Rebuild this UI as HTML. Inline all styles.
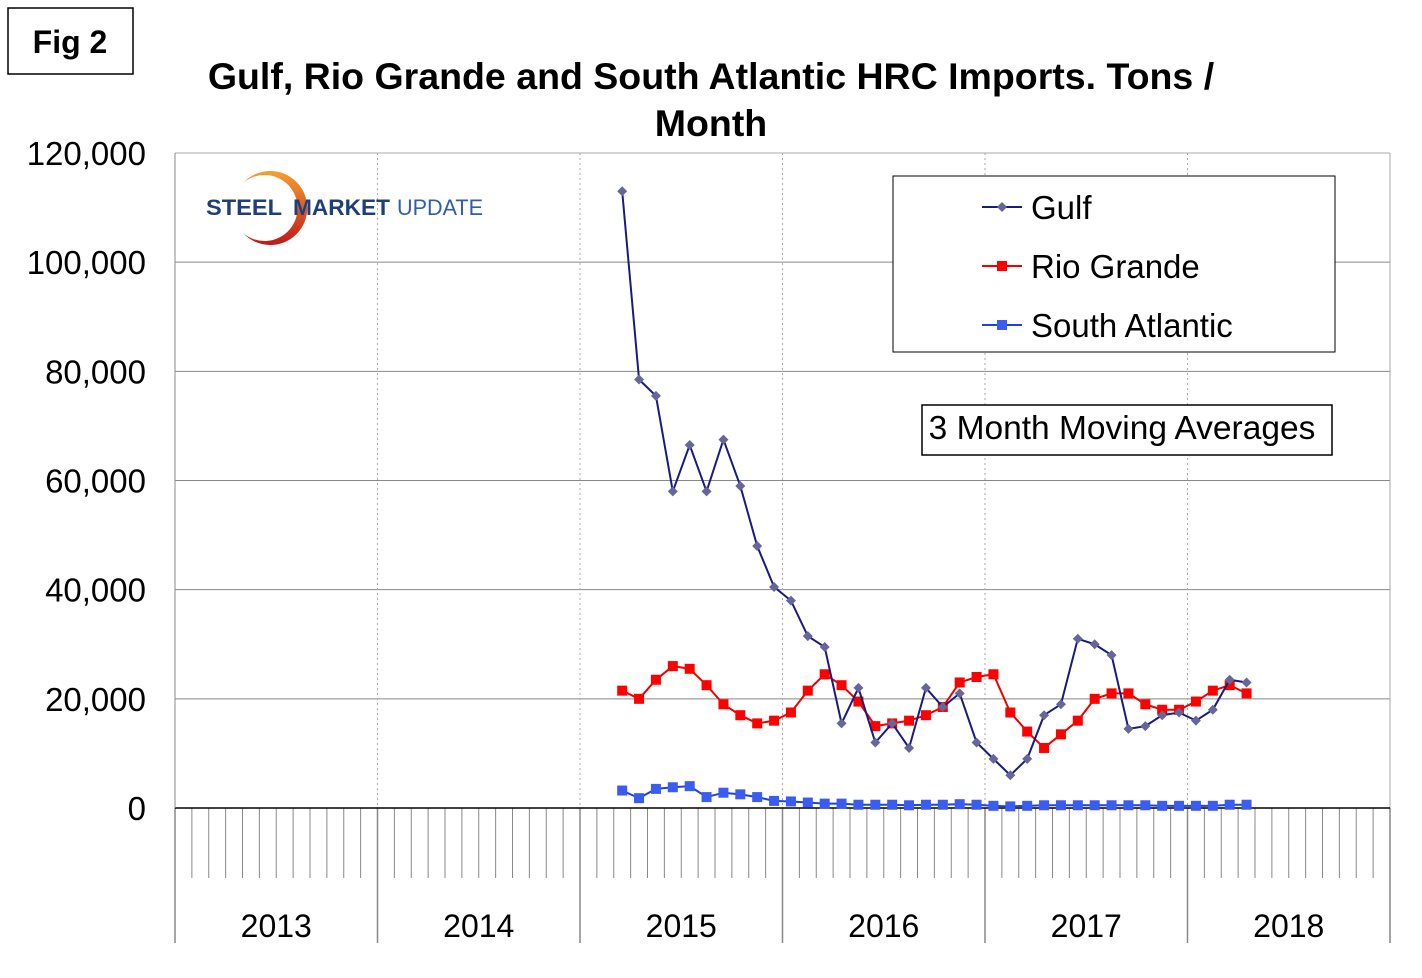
<!DOCTYPE html>
<html><head><meta charset="utf-8"><style>
body{margin:0;background:#fff;font-family:"Liberation Sans",Arial,sans-serif}
svg text{font-family:"Liberation Sans",Arial,sans-serif}
</style></head><body>
<svg id="c" width="1422" height="973" xmlns="http://www.w3.org/2000/svg">
<defs><linearGradient id="lg" x1="0" y1="0" x2="0" y2="1"><stop offset="0" stop-color="#f5a030"/><stop offset="1" stop-color="#c01818"/></linearGradient></defs>
<rect x="0" y="0" width="1422" height="973" fill="#fff"/>
<rect x="8" y="8" width="125" height="66" fill="#fff" stroke="#000" stroke-width="1.5"/>
<text x="70" y="53" font-size="32" font-weight="bold" text-anchor="middle">Fig 2</text>
<text x="711" y="89" font-size="37.5" font-weight="bold" text-anchor="middle">Gulf, Rio Grande and South Atlantic HRC Imports. Tons /</text>
<text x="711" y="136" font-size="37.5" font-weight="bold" text-anchor="middle">Month</text>
<g id="grid"></g>
<g id="axes"></g>
<g>
<path d="M243,183 A37,37 0 1,1 243,233 A33,33 0 1,0 243,183 Z" fill="url(#lg)"/>
<text x="206" y="215" font-size="22" font-weight="bold" fill="#1f3f7a" textLength="76" lengthAdjust="spacingAndGlyphs">STEEL</text>
<text x="293" y="215" font-size="22" font-weight="bold" fill="#1f3f7a" textLength="97" lengthAdjust="spacingAndGlyphs">MARKET</text>
<text x="397" y="215" font-size="22" fill="#2e5fa8" textLength="86" lengthAdjust="spacingAndGlyphs">UPDATE</text>
</g>
<g id="series"></g>
<rect x="893" y="176" width="442" height="176" fill="#fff" stroke="#000" stroke-width="1"/>
<g id="legend"></g>
<rect x="922" y="405" width="410" height="50" fill="#fff" stroke="#000" stroke-width="1.5"/>
<text x="1122" y="439" font-size="33.5" text-anchor="middle">3 Month Moving Averages</text>
</svg>
<script>
const years=["2013","2014","2015","2016","2017","2018"];
const yTicks=[0,20000,40000,60000,80000,100000,120000];
const startMonthIndex=26; // March 2015, months since Jan 2013
const gulf=[113000,78500,75500,58000,66500,58000,67500,59000,48000,40500,38000,31500,29500,15500,22000,12000,15500,11000,22000,18500,21000,12000,9000,6000,9000,17000,19000,31000,30000,28000,14500,15000,17000,17500,16000,18000,23500,23000];
const rioGrande=[21500,20000,23500,26000,25500,22500,19000,17000,15500,16000,17500,21500,24500,22500,19500,15000,15500,16000,17000,18500,23000,24000,24500,17500,14000,11000,13500,16000,20000,21000,21000,19000,18000,18000,19500,21500,22500,21000];
const southAtlantic=[3200,1800,3500,3800,4000,2000,2800,2500,2000,1300,1200,1000,800,800,600,600,600,500,600,600,700,600,400,300,400,500,500,500,500,500,500,500,400,400,400,400,600,600];
const NS="http://www.w3.org/2000/svg";
const X0=175,X1=1390,Y0=808,Ytop=153,YMAX=120000;
const monthW=(X1-X0)/72;
const xm=i=>X0+(i+0.5)*monthW;
const y=v=>Y0-(v/YMAX)*(Y0-Ytop);
function mk(tag,attrs,parent){const e=document.createElementNS(NS,tag);for(const k in attrs)e.setAttribute(k,attrs[k]);parent.appendChild(e);return e;}
const grid=document.getElementById('grid'),axes=document.getElementById('axes'),ser=document.getElementById('series'),leg=document.getElementById('legend');
yTicks.forEach(v=>{
 if(v>0){const l=mk('line',{x1:X0,x2:X1,y1:y(v),y2:y(v),stroke:'#888','stroke-width':1},grid);
 
 }
 const t=mk('text',{x:146,y:y(v)+12,'font-size':33,'text-anchor':'end'},axes);t.textContent=v.toLocaleString('en-US');
 
 
});
for(let k=0;k<=6;k++){const x=X0+k*12*monthW;
 if(k>0&&k<6){const l=mk('line',{x1:x,x2:x,y1:Ytop,y2:Y0,stroke:'#aaa','stroke-dasharray':'2 3'},grid);
 
 }
 const s=mk('line',{x1:x,x2:x,y1:Y0,y2:943,stroke:'#888','stroke-width':1.5},axes);
 
 
}
mk('line',{x1:X0,x2:X1,y1:Ytop,y2:Ytop,stroke:'#aaa'},grid);
mk('line',{x1:X1,x2:X1,y1:Ytop,y2:Y0,stroke:'#aaa'},grid);
for(let m=1;m<72;m++){if(m%12==0)continue;const x=X0+m*monthW;mk('line',{x1:x,x2:x,y1:Y0,y2:878,stroke:'#888'},axes);}
const ya=mk('line',{x1:X0,x2:X1,y1:Y0,y2:Y0,stroke:'#000','stroke-width':1.5},axes);


mk('line',{x1:X0,x2:X0,y1:Ytop,y2:Y0,stroke:'#888'},axes);
years.forEach((yr,k)=>{const t=mk('text',{x:X0+(k+0.5)*12*monthW,y:937,'font-size':32,'text-anchor':'middle'},axes);t.textContent=yr;
 
 });
function draw(data,color,marker,name){
 const pts=data.map((v,i)=>[xm(startMonthIndex+i),y(v)]);
 const p=mk('polyline',{points:pts.map(p=>p.join(',')).join(' '),fill:'none',stroke:color,'stroke-width':2},ser);
 
 
 pts.forEach(([px,py])=>{let m;
  if(marker=='diamond')m=mk('polygon',{points:`${px},${py-5} ${px+5},${py} ${px},${py+5} ${px-5},${py}`,fill:'#66669a'},ser);
  else m=mk('rect',{x:px-5,y:py-5,width:10,height:10,fill:color==='#e00'?'#f00':'#3b5cf0'},ser);
  
  });
}
draw(southAtlantic,'#2040e0','square','south-atlantic');
draw(rioGrande,'#e00','square','rio-grande');
draw(gulf,'#1a1a80','diamond','gulf');
[['Gulf','#1a1a80','diamond',207],['Rio Grande','#e00','square',266],['South Atlantic','#2040e0','square',325]].forEach(([n,c,mkr,yy])=>{
 const g=mk('g',{},leg);
 
 
 mk('line',{x1:982,x2:1022,y1:yy,y2:yy,stroke:c,'stroke-width':2},g);
 if(mkr=='diamond')mk('polygon',{points:`1002,${yy-5} 1007,${yy} 1002,${yy+5} 997,${yy}`,fill:'#66669a'},g);
 else mk('rect',{x:997,y:yy-5,width:10,height:10,fill:c==='#e00'?'#f00':'#3b5cf0'},g);
 const t=mk('text',{x:1031,y:yy+12,'font-size':33},g);t.textContent=n;
});
</script>
</body></html>
